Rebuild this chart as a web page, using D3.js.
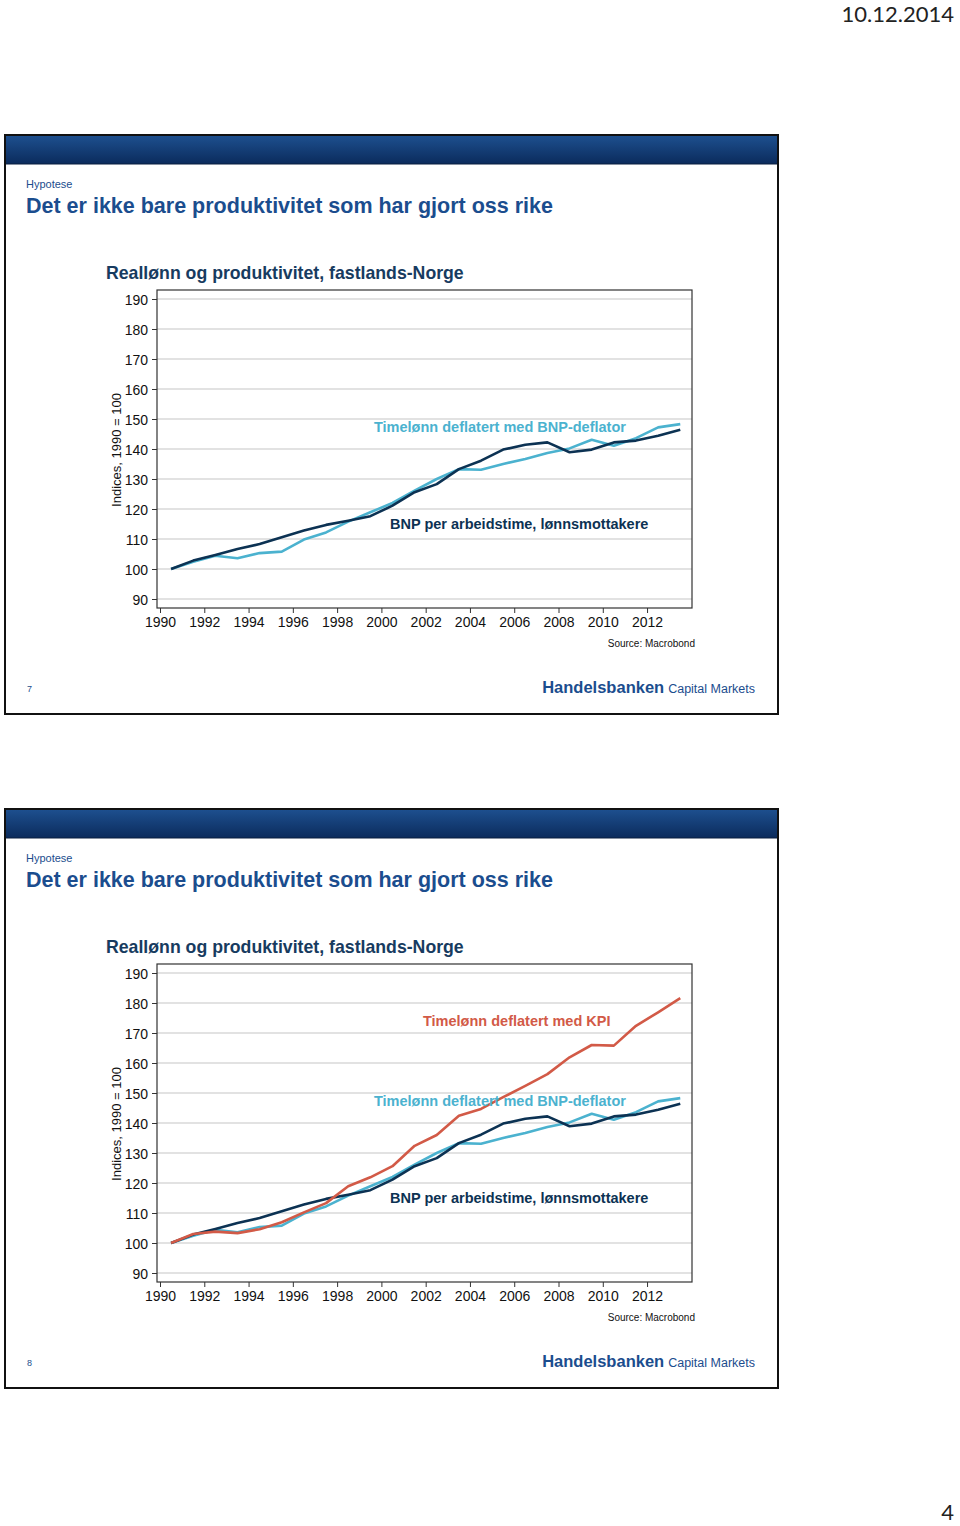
<!DOCTYPE html>
<html>
<head>
<meta charset="utf-8">
<script src="https://cdn.jsdelivr.net/npm/d3@7"></script>
<style>
  html, body { margin: 0; padding: 0; background: #fff; }
  svg { display: block; }
</style>
</head>
<body>
<svg id="page" width="960" height="1526"></svg>
<script>
// ---- Data ----
const years = d3.range(1990, 2014);
const bnpPerTime = [100, 102.8, 104.7, 106.7, 108.3, 110.6, 112.8, 114.7, 116.1, 117.6, 121.1, 125.6,
                    128.3, 133.3, 136.1, 139.8, 141.4, 142.2, 138.9, 139.8, 142.2, 142.8, 144.4, 146.4];
const timelonnBnpDefl = [100, 102.4, 104.4, 103.6, 105.3, 105.8, 109.8, 112.2, 115.8, 118.9, 122.0, 126.1,
                         130.0, 133.3, 133.1, 135.0, 136.7, 138.7, 140.2, 143.1, 141.1, 143.6, 147.2, 148.3];
const timelonnKpi = [100, 103.0, 103.8, 103.3, 104.6, 106.9, 110.2, 113.3, 118.9, 121.9, 125.6, 132.4,
                     136.0, 142.4, 144.7, 148.6, 152.4, 156.3, 161.9, 166.0, 165.8, 172.4, 176.9, 181.6];
const yTicks = [90, 100, 110, 120, 130, 140, 150, 160, 170, 180, 190];
const xTicks = d3.range(1990, 2013, 2);

const pageTitle = "Det er ikke bare produktivitet som har gjort oss rike";
const chartTitle = "Reallønn og produktivitet, fastlands-Norge";
const yLabel = "Indices, 1990 = 100";
const labelBnp = "BNP per arbeidstime, lønnsmottakere";
const labelDefl = "Timelønn deflatert med BNP-deflator";
const labelKpi = "Timelønn deflatert med KPI";

const C_NAVY = "#0c3253";
const C_LIGHT = "#4bb2cf";
const C_RED = "#d25a47";
const C_BLUE = "#1b4d8e";

const svg = d3.select("#page");
const FONT = "'Liberation Sans', Arial, sans-serif";

// defs: header gradient
const defs = svg.append("defs");
const grad = defs.append("linearGradient").attr("id", "hdr").attr("x1", 0).attr("y1", 0).attr("x2", 0).attr("y2", 1);
grad.append("stop").attr("offset", "0%").attr("stop-color", "#1d4f8e");
grad.append("stop").attr("offset", "100%").attr("stop-color", "#0b2b5c");

// Page date & number
svg.append("text").attr("x", 954).attr("y", 22).attr("text-anchor", "end")
  .attr("font-family", "Lato, 'Open Sans', sans-serif").attr("font-size", 22).attr("fill", "#222")
  .text("10.12.2014");
svg.append("text").attr("x", 954).attr("y", 1520).attr("text-anchor", "end")
  .attr("font-family", "Lato, 'Open Sans', sans-serif").attr("font-size", 22).attr("fill", "#222")
  .text("4");

function drawSlide(top, series, num) {
  const g = svg.append("g").attr("transform", `translate(0,${top})`);
  // frame
  g.append("rect").attr("x", 5).attr("y", 1).attr("width", 773).attr("height", 579)
    .attr("fill", "#fff").attr("stroke", "#111").attr("stroke-width", 2);
  g.append("rect").attr("x", 6).attr("y", 2).attr("width", 771).attr("height", 28).attr("fill", "url(#hdr)");
  g.append("line").attr("x1", 6).attr("x2", 777).attr("y1", 30).attr("y2", 30).attr("stroke", "#0a1f40").attr("stroke-width", 1);

  g.append("text").attr("x", 26).attr("y", 54).attr("font-family", FONT).attr("font-size", 11)
    .attr("fill", C_BLUE).text("Hypotese");
  g.append("text").attr("x", 26).attr("y", 79).attr("font-family", FONT).attr("font-size", 21.5)
    .attr("font-weight", "bold").attr("fill", C_BLUE).text(pageTitle);
  g.append("text").attr("x", 106).attr("y", 145).attr("font-family", FONT).attr("font-size", 17.7)
    .attr("font-weight", "bold").attr("fill", "#173b60").text(chartTitle);

  const x = d3.scaleLinear().domain([1989.864, 2014.03]).range([157, 692]);
  const y = d3.scaleLinear().domain([87, 193]).range([474, 156]);

  // gridlines
  g.append("g").selectAll("line").data(yTicks).join("line")
    .attr("x1", 157).attr("x2", 692).attr("y1", d => y(d)).attr("y2", d => y(d))
    .attr("stroke", "#d9d9d9").attr("stroke-width", 1.5);

  // axes
  const yAxis = g.append("g").attr("transform", "translate(157,0)")
    .call(d3.axisLeft(y).tickValues(yTicks).tickSize(5).tickPadding(4).tickFormat(d3.format("d")));
  yAxis.select(".domain").remove();
  yAxis.selectAll("text").attr("font-family", FONT).attr("font-size", 14).attr("fill", "#111").attr("dy", "0.42em");
  yAxis.selectAll("line").attr("stroke", "#333");

  const xAxis = g.append("g").attr("transform", "translate(0,474)")
    .call(d3.axisBottom(x).tickValues(xTicks).tickSize(5).tickPadding(4).tickFormat(d3.format("d")));
  xAxis.select(".domain").remove();
  xAxis.selectAll("text").attr("font-family", FONT).attr("font-size", 14).attr("fill", "#111");
  xAxis.selectAll("line").attr("stroke", "#333");

  // plot box
  g.append("rect").attr("x", 157).attr("y", 156).attr("width", 535).attr("height", 318)
    .attr("fill", "none").attr("stroke", "#333").attr("stroke-width", 1.2);

  // y label
  g.append("text").attr("transform", `translate(121,${(156 + 474) / 2 + 1}) rotate(-90)`)
    .attr("text-anchor", "middle").attr("font-family", FONT).attr("font-size", 13).attr("fill", "#111")
    .text(yLabel);

  const line = d3.line().x((d, i) => x(years[i] + 0.5)).y(d => y(d));
  series.forEach(s => {
    g.append("path").datum(s.values).attr("d", line).attr("fill", "none")
      .attr("stroke", s.color).attr("stroke-width", 2.6).attr("stroke-linejoin", "round");
  });
  series.forEach(s => {
    g.append("text").attr("x", s.lx).attr("y", s.ly).attr("font-family", FONT).attr("font-size", 14.5)
      .attr("font-weight", "bold").attr("fill", s.color).text(s.label);
  });

  g.append("text").attr("x", 695).attr("y", 513).attr("text-anchor", "end").attr("font-family", FONT)
    .attr("font-size", 10).attr("fill", "#111").text("Source: Macrobond");

  g.append("text").attr("x", 27).attr("y", 558).attr("font-family", FONT).attr("font-size", 9)
    .attr("fill", C_BLUE).text(num);
  const logo = g.append("text").attr("x", 755).attr("y", 559).attr("text-anchor", "end")
    .attr("font-family", FONT).attr("fill", C_BLUE);
  logo.append("tspan").attr("font-size", 16.5).attr("font-weight", "bold").text("Handelsbanken");
  logo.append("tspan").attr("font-size", 12.5).attr("dx", 4).text("Capital Markets");
}

const sNavy = { values: bnpPerTime, color: C_NAVY, label: labelBnp, lx: 390, ly: 395 };
const sLight = { values: timelonnBnpDefl, color: C_LIGHT, label: labelDefl, lx: 374, ly: 298 };
const sRed = { values: timelonnKpi, color: C_RED, label: labelKpi, lx: 423, ly: 218 };

drawSlide(134, [sLight, sNavy], "7");
drawSlide(808, [sLight, sNavy, sRed], "8");
</script>
</body>
</html>
